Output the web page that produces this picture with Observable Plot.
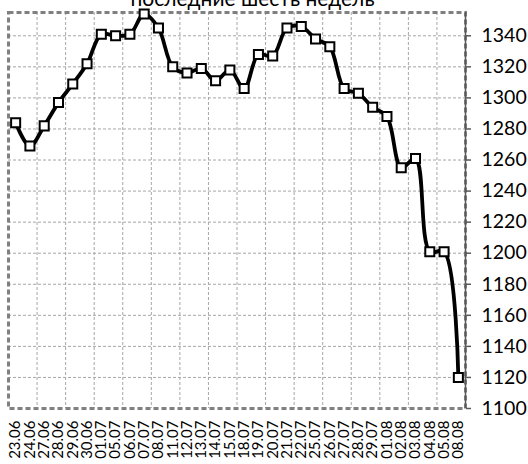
<!DOCTYPE html>
<html><head><meta charset="utf-8">
<script src="https://cdn.jsdelivr.net/npm/d3@7"></script>
<script src="https://cdn.jsdelivr.net/npm/@observablehq/plot@0.6"></script>
<style>html,body{margin:0;padding:0;background:#fff;overflow:hidden;}</style>
</head><body><div id="chart"></div>
<script>
const title = "последние шесть недель";
const dates = ["23.06","24.06","27.06","28.06","29.06","30.06","01.07","05.07","06.07","07.07","08.07","11.07","12.07","13.07","14.07","15.07","18.07","19.07","20.07","21.07","22.07","25.07","26.07","27.07","28.07","29.07","01.08","02.08","03.08","04.08","05.08","08.08"];
const values = [1284,1269,1282,1297,1309,1322,1341,1340,1341,1354,1345,1320,1316,1319,1311,1318,1306,1328,1327,1345,1346,1338,1333,1306,1303,1294,1288,1255,1261,1201,1201,1120];
const yTicks = [1100,1120,1140,1160,1180,1200,1220,1240,1260,1280,1300,1320,1340];

const data = dates.map((d, i) => ({i, date: d, value: values[i]}));
const xTicks = dates.map((d, i) => i);
const xGrid = xTicks.filter(i => i % 2 === 1 && i < dates.length - 1).map(i => i + 0.5);
const gridStyle = {stroke: "#a6a6a6", strokeOpacity: 1, strokeWidth: 1, strokeDasharray: "3,2"};

const chart = Plot.plot({
  width: 528, height: 464,
  marginLeft: 8, marginRight: 63, marginTop: 12, marginBottom: 56,
  style: {fontFamily: "Lato", background: "#fff", color: "#000"},
  x: {type: "linear", domain: [-0.5, dates.length - 0.5]},
  y: {domain: [1100, 1355]},
  marks: [
    Plot.gridY(yTicks.slice(1), gridStyle),
    Plot.gridX(xGrid, gridStyle),
    Plot.frame({stroke: "#808080", strokeWidth: 3, strokeDasharray: "5,3"}),
    Plot.ruleX([dates.length - 0.5], {stroke: "#595959", strokeWidth: 1.5}),
    Plot.axisY(yTicks, {anchor: "right", tickFormat: d => String(d), tickSize: 5, tickPadding: 11, fontSize: 19.5, fill: "#000", stroke: "#595959", strokeWidth: 1.5, label: null}),
    Plot.axisX(xTicks, {anchor: "bottom", tickFormat: i => dates[i], tickRotate: -90, tickSize: 0, tickPadding: 12, fontSize: 15, fill: "#000", label: null}),
    Plot.line(data, {x: "i", y: "value", curve: "catmull-rom", stroke: "#000", strokeWidth: 3.8}),
    Plot.dot(data, {x: "i", y: "value", symbol: "square", r: 5.1, fill: "#fff", stroke: "#000", strokeWidth: 2}),
    Plot.text([title], {frameAnchor: "top", lineAnchor: "bottom", dy: -7, dx: 15.5, fontSize: 21, fill: "#000"})
  ]
});
document.getElementById("chart").appendChild(chart);
</script>
</body></html>
